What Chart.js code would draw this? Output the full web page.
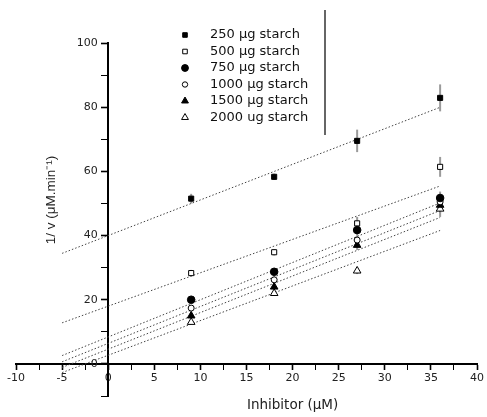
<!DOCTYPE html>
<html><head><meta charset="utf-8">
<script src="https://cdn.jsdelivr.net/npm/chart.js@4/dist/chart.umd.min.js"></script>
<style>html,body{margin:0;padding:0;background:#fff}#wrap{width:487px;height:417px}</style>
</head><body><div id="wrap"><canvas id="c" width="487" height="417"></canvas></div>
<script>
// ---- data ----
const inhibitor = [9, 18, 27, 36];
const seriesLabels = ['250 µg starch', '500 µg starch', '750 µg starch', '1000 µg starch', '1500 µg starch', '2000 ug starch'];
const s250  = [51.5, 58.3, 69.5, 82.9];
const s500  = [28.3, 34.8, 43.8, 61.4];
const s750  = [20.0, 28.7, 41.7, 51.7];
const s1000 = [17.4, 26.2, 38.6, 50.5];
const s1500 = [15.0, 24.0, 37.0, 49.5];
const s2000 = [13.0, 22.0, 29.0, 48.3];
const e250  = [1.5, 1.0, 3.5, 4.2];
const e500  = [1.0, 1.0, 2.0, 3.1];
const e750  = [0.6, 0.8, 1.5, 2.0];
const e1000 = [0.6, 0.8, 1.5, 2.5];
const e1500 = [0.6, 0.8, 1.5, 2.5];
const e2000 = [0.6, 0.8, 1.0, 2.5];
// fitted regression lines
const fitSlope     = [1.11, 1.04, 1.16, 1.15, 1.14, 1.08];
const fitIntercept = [40.0, 18.0, 8.4, 6.4, 4.6, 2.7];
const fitRange = [-5, 36];
const xTicksMajor = [-10, -5, 0, 5, 10, 15, 20, 25, 30, 35, 40];
const yTicksMajor = [0, 20, 40, 60, 80, 100];

const series = [s250, s500, s750, s1000, s1500, s2000];
const errors = [e250, e500, e750, e1000, e1500, e2000];
const styles = [
  {pointStyle: 'rect', fill: '#000', radius: 3.6},
  {pointStyle: 'rect', fill: '#fff', radius: 3.6},
  {pointStyle: 'circle', fill: '#000', radius: 3.8},
  {pointStyle: 'circle', fill: '#fff', radius: 3.0},
  {pointStyle: 'triangle', fill: '#000', radius: 4.4},
  {pointStyle: 'triangle', fill: '#fff', radius: 4.4}
];

const datasets = [];
series.forEach((vals, i) => {
  datasets.push({
    type: 'line',
    label: 'fit ' + seriesLabels[i],
    data: fitRange.map(x => ({x: x, y: fitIntercept[i] + fitSlope[i] * x})),
    borderColor: '#444',
    borderWidth: 1,
    borderDash: [1.5, 2],
    pointRadius: 0,
    fill: false,
    isFit: true,
    order: 2
  });
});
series.forEach((vals, i) => {
  datasets.push({
    type: 'scatter',
    label: seriesLabels[i],
    data: vals.map((v, k) => ({x: inhibitor[k], y: v})),
    err: errors[i],
    pointStyle: styles[i].pointStyle,
    pointRadius: styles[i].radius,
    pointHoverRadius: styles[i].radius,
    backgroundColor: styles[i].fill,
    borderColor: '#000',
    borderWidth: 1,
    order: 1
  });
});

const deco = {
  id: 'deco',
  beforeDatasetsDraw(chart) {
    const ctx = chart.ctx, xs = chart.scales.x, ys = chart.scales.y;
    ctx.save();
    ctx.strokeStyle = '#9a9a9a';
    ctx.lineWidth = 2;
    chart.data.datasets.forEach(ds => {
      if (!ds.err) return;
      ds.data.forEach((p, k) => {
        const e = ds.err[k];
        const px = xs.getPixelForValue(p.x);
        ctx.beginPath();
        ctx.moveTo(px, ys.getPixelForValue(p.y - e));
        ctx.lineTo(px, ys.getPixelForValue(p.y + e));
        ctx.stroke();
      });
    });
    ctx.restore();
  },
  afterDraw(chart) {
    const ctx = chart.ctx;
    ctx.save();
    // legend
    let rowY = 35;
    const symX = 185, txtX = 210, step = 16.5;
    chart.data.datasets.forEach(ds => {
      if (ds.isFit) return;
      ctx.fillStyle = ds.backgroundColor; ctx.strokeStyle = '#000'; ctx.lineWidth = 1;
      Chart.helpers.drawPoint(ctx, {
        pointStyle: ds.pointStyle, radius: ds.pointRadius * 0.9, borderWidth: 1, rotation: 0
      }, symX, rowY);
      ctx.font = '13px "DejaVu Sans"';
      ctx.fillStyle = '#111';
      ctx.textBaseline = 'middle';
      ctx.textAlign = 'left';
      ctx.fillText(ds.label, txtX, rowY);
      rowY += step;
    });
    // vertical frame line near the legend
    ctx.strokeStyle = '#333';
    ctx.lineWidth = 1.5;
    ctx.beginPath();
    ctx.moveTo(325, 10);
    ctx.lineTo(325, 135);
    ctx.stroke();
    // axis titles
    ctx.fillStyle = '#222';
    ctx.textAlign = 'center';
    ctx.textBaseline = 'middle';
    ctx.font = '13.5px "DejaVu Sans"';
    const xs = chart.scales.x;
    ctx.fillText('Inhibitor (μM)', (xs.getPixelForValue(0) + xs.getPixelForValue(40)) / 2, 405);
    ctx.translate(51, 200);
    ctx.rotate(-Math.PI / 2);
    ctx.font = '13.5px "Liberation Sans"';
    ctx.fillText('1/ v (μM.min⁻¹)', 0, 0);
    ctx.restore();
  }
};

new Chart(document.getElementById('c'), {
  data: {datasets: datasets},
  options: {
    responsive: false,
    animation: false,
    events: [],
    layout: {padding: {left: 16, right: 6, top: 43, bottom: 21}},
    plugins: {legend: {display: false}, tooltip: {enabled: false}},
    scales: {
      x: {
        type: 'linear',
        min: -10, max: 40,
        position: {y: 0},
        border: {display: true, color: '#000', width: 2},
        grid: {
          drawOnChartArea: false, drawTicks: true, tickLength: 5,
          tickColor: '#000',
          tickWidth: ctx => (xTicksMajor.includes(ctx.tick.value) ? 1.6 : 1)
        },
        ticks: {
          stepSize: 2.5, autoSkip: false, maxRotation: 0, padding: 3,
          color: '#222',
          font: {family: 'DejaVu Sans', size: 11},
          callback: v => (xTicksMajor.includes(v) ? String(v) : '')
        }
      },
      y: {
        type: 'linear',
        min: -10, max: 100,
        position: {x: 0},
        border: {display: true, color: '#000', width: 2},
        grid: {
          drawOnChartArea: false, drawTicks: true, tickLength: 6,
          tickColor: '#000',
          tickWidth: ctx => (yTicksMajor.includes(ctx.tick.value) ? 1.6 : 1)
        },
        ticks: {
          stepSize: 10, autoSkip: false, padding: 4,
          color: '#222',
          font: {family: 'DejaVu Sans', size: 11},
          // positioned axes right-align labels on the axis line; trailing spaces keep them clear of the ticks
          callback: v => (yTicksMajor.includes(v) ? String(v) + '   ' : '')
        }
      }
    }
  },
  plugins: [deco]
});
</script>
</body></html>
